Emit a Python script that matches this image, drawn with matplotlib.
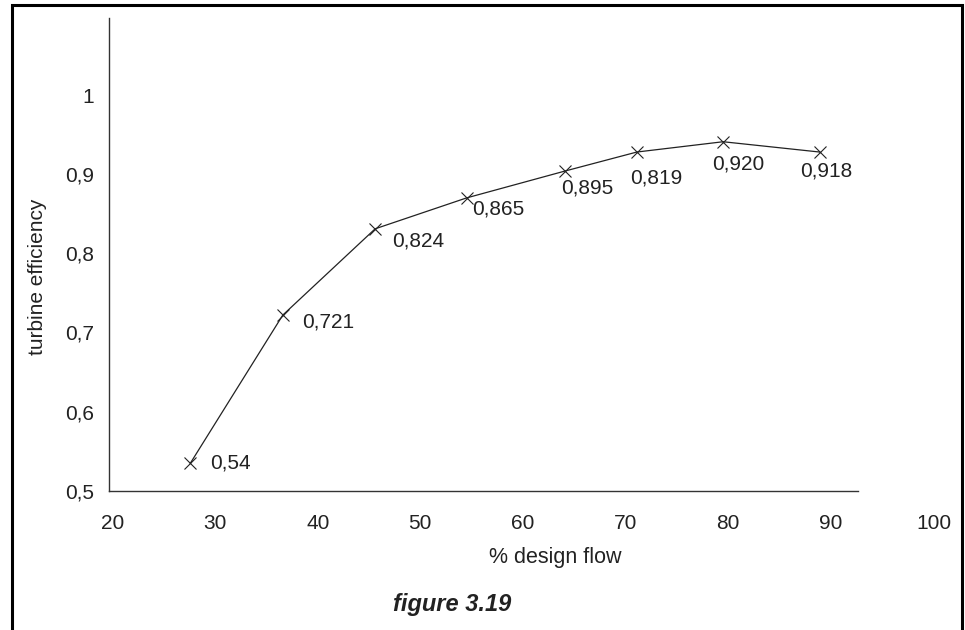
import matplotlib
matplotlib.use("Agg")
from matplotlib import pyplot as plt
from matplotlib.patches import Rectangle

plt.rcParams["font.family"] = ["Liberation Sans", "DejaVu Sans"]

# % design flow vs turbine efficiency
flow = [27.6, 36.6, 45.6, 54.5, 64.1, 71.1, 79.5, 88.9]
efficiency = [0.535, 0.722, 0.831, 0.870, 0.904, 0.928, 0.941, 0.928]
point_labels = ["0,54", "0,721", "0,824", "0,865", "0,895", "0,819", "0,920", "0,918"]

x_ticks = [20, 30, 40, 50, 60, 70, 80, 90, 100]
y_ticks = [0.5, 0.6, 0.7, 0.8, 0.9, 1.0]
y_tick_labels = ["0,5", "0,6", "0,7", "0,8", "0,9", "1"]

# label offsets (points) relative to each marker
offsets = [(14, 0), (14, -5), (12, -9), (4, -8), (-3, -12), (-5, -19), (-8, -16), (-14, -14)]

ink = "#222222"
fs = 15
fig = plt.figure(figsize=(9.65, 6.3), dpi=100)
ax = fig.add_axes([0.113, 0.221, 0.865, 0.750])

ax.plot(flow, efficiency, color=ink, linewidth=0.9, marker="x",
        markersize=9, markeredgewidth=0.8)
for x, y, lab, (dx, dy) in zip(flow, efficiency, point_labels, offsets):
    ax.annotate(lab, (x, y), xytext=(dx, dy), textcoords="offset points",
                ha="left", va="center", fontsize=fs, color=ink)

ax.set_xlim(19.67, 101)
ax.set_ylim(0.5, 1.097)
ax.spines["top"].set_visible(False)
ax.spines["right"].set_visible(False)
ax.spines["bottom"].set_bounds(19.67, 92.6)
for s in ("left", "bottom"):
    ax.spines[s].set_color("#333333")
    ax.spines[s].set_linewidth(1.0)

ax.set_xticks(x_ticks)
ax.set_xticklabels([str(t) for t in x_ticks])
ax.set_yticks(y_ticks)
ax.set_yticklabels(y_tick_labels)
ax.tick_params(axis="both", length=0, labelsize=fs, colors=ink)
ax.tick_params(axis="x", pad=17)
ax.tick_params(axis="y", pad=11)

ax.set_xlabel("% design flow", fontsize=fs + 0.5, color=ink)
ax.xaxis.set_label_coords(0.534, -0.118)
ax.set_ylabel("turbine efficiency", fontsize=fs, color=ink)
ax.yaxis.set_label_coords(-0.074, 0.452)

fig.text(0.469, 0.040, "figure 3.19", ha="center", va="center", fontsize=17,
         fontweight="bold", fontstyle="italic", color=ink)

# frame around the figure
fig.patches.append(Rectangle((12 / 965, -0.1), 950 / 965, 1.1 - 5 / 630,
                             transform=fig.transFigure, fill=False,
                             edgecolor="black", linewidth=2.2, clip_on=False))

fig.savefig("out.png", dpi=100)
